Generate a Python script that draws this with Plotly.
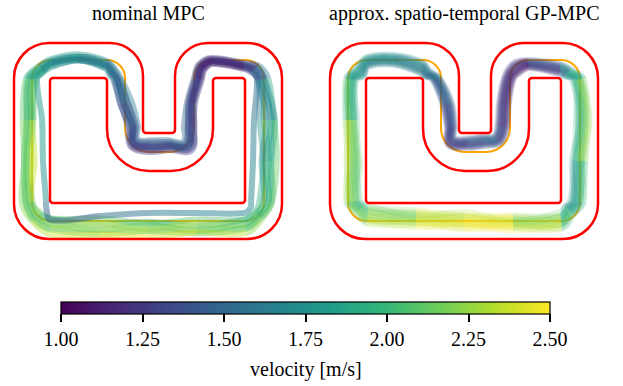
import numpy as np
import plotly.graph_objects as go
from plotly.colors import sample_colorscale

# ---------------- track geometry (track units, y pointing down) ----------------
outer_vx = [0, 129, 129, 161, 161, 268, 268, 0]
outer_vy = [0, 0, 90, 90, 0, 0, 196, 196]
outer_r = [35, 33, 3, 3, 33, 35, 35, 35]

inner_vx = [36, 93, 93, 199, 199, 231, 231, 36]
inner_vy = [35, 35, 128, 128, 35, 35, 160, 160]
inner_r = [3, 3, 42, 42, 3, 3, 3, 3]

ref_vx = [18, 111, 111, 180, 180, 250, 250, 18]
ref_vy = [17, 17, 109, 109, 17, 17, 178, 178]
ref_r = [19, 18, 24, 24, 18, 19, 19, 19]

# stations along the reference line
station_x = [18, 18, 18, 18, 23.6, 37, 65, 93, 105.7, 111, 111, 111, 118, 135, 156, 173, 180, 180,
             180, 185.3, 198, 231, 244.4, 250, 250, 250, 250, 244.4, 231, 183, 134, 86, 37, 23.6]
station_y = [159, 118, 77, 36, 22.6, 17, 17, 17, 22.3, 35, 60, 85, 102, 109, 109, 102, 85, 60,
             35, 22.3, 17, 17, 22.6, 36, 77, 118, 159, 172.4, 178, 178, 178, 178, 178, 172.4]

# ---------------- nominal MPC laps (lateral offset from reference, velocity) ----------------
# main bundle
nom_off_base = [4, 4, 3, 1, -5, -3, 2, -5, -10, -8, 0, 8, 3, 6, 7, -1, 4, 3,
                -4, -3, -1, -6, -5, -2, 5, 4, 3, 0, 4, 7, 7, 7, 4, 2]
nom_off_spread = [5, 5, 5, 5, 4, 4, 3, 4, 4, 4, 6, 5, 5, 6, 5, 6, 5, 4,
                  4, 4, 3, 3, 5, 5, 7, 7, 6, 5, 7, 6, 7, 8, 8, 6]
nom_off_twist = [2, -2, 2, 0, 0, 0, 1, 0, 0, 0, 2, 0, 0, 0, 0, 0, 2, 0,
                 0, 0, 0, 0, 0, 2, -3, 3, -2, 0, 2, -3, 3, -2, 2, 0]
nom_v_base = [2.15, 2.2, 2.15, 1.95, 1.8, 1.75, 1.7, 1.62, 1.55, 1.5, 1.45, 1.38, 1.3, 1.28, 1.35, 1.32, 1.35, 1.3,
              1.22, 1.15, 1.12, 1.2, 1.35, 1.55, 1.8, 1.9, 1.95, 2.0, 2.1, 2.15, 2.2, 2.2, 2.15, 2.1]
nom_v_spread = [-0.1, -0.1, -0.1, 0.0, 0.0, 0.0, 0.0, 0.0, 0.0, 0.0, 0.05, 0.08, 0.12, 0.15, 0.12, 0.08, 0.05, 0.05,
                0.05, 0.05, 0.05, 0.05, 0.05, 0.08, 0.12, 0.12, 0.1, 0.1, 0.1, 0.15, 0.15, 0.15, 0.1, 0.1]
nom_lap_k = [-1, -0.65, -0.3, 0, 0.3, 0.65, 1]
nom_lap_k2 = [0.8, -0.6, 1, -1, 0.3, -0.4, 0.6]
nom_lap_dv = [0.08, -0.05, 0.18, -0.08, 0.04, -0.1, 0.1]
# separate inner lap
nom_inner_off = [-14, -11, -10, -5, -8, -3, 0, -6, -11, -8, -1, 8, 2, 5, 6, -1, 3, 2,
                 -4, -3, -1, -6, -8, -7, -10, -11, -13, -11, -8, -8, -8, -5, -1, -12]
nom_inner_v = [1.7, 1.8, 1.85, 1.8, 1.75, 1.7, 1.65, 1.6, 1.55, 1.5, 1.45, 1.4, 1.3, 1.3, 1.35, 1.35, 1.35, 1.3,
               1.25, 1.2, 1.15, 1.25, 1.4, 1.5, 1.6, 1.65, 1.7, 1.7, 1.68, 1.65, 1.6, 1.5, 1.38, 1.5]

# ---------------- approx. spatio-temporal GP-MPC laps ----------------
gp_off_base = [-5, -5, -3, -3, -9, -2, 0, -8, -12, -5, 6, 10, 5, 9, 11, 8, 8, 6,
               1, -3, -4, -9, -10, -2, 3, -1, -3, -7, 0, 2, 0, -2, -6, -9]
gp_off_spread = [6, 6, 5, 5, 6, 5, 5, 6, 4, 4, 5, 4, 5, 5, 5, 5, 5, 5,
                 5, 6, 4, 5, 5, 5, 6, 6, 6, 6, 7, 6, 7, 7, 8, 6]
gp_off_twist = [2, -2, 2, -1, 0, 0, 0, 0, 0, 0, 0, 0, 0, 0, 0, 0, 0, 0,
                0, 0, 0, 0, 0, 2, -2, 2, -2, 0, 3, -3, 3, -3, 2, 0]
gp_v_base = [2.05, 2.25, 2.1, 1.85, 1.75, 1.7, 1.68, 1.62, 1.55, 1.5, 1.4, 1.32, 1.28, 1.3, 1.45, 1.4, 1.25, 1.2,
             1.18, 1.15, 1.15, 1.45, 1.7, 1.95, 2.15, 1.95, 1.8, 1.85, 2.1, 2.4, 2.45, 2.3, 2.15, 2.05]
gp_v_spread = [0.1, 0.1, 0.1, 0.08, 0.05, 0.05, 0.05, 0.05, 0.05, 0.05, 0.05, 0.05, 0.05, 0.05, 0.08, 0.05, 0.05, 0.05,
               0.05, 0.05, 0.05, 0.08, 0.1, 0.15, 0.2, 0.2, 0.12, 0.1, 0.1, 0.08, 0.05, 0.08, 0.1, 0.1]
gp_lap_k = [-1, -0.85, -0.7, -0.55, -0.4, -0.25, -0.1, 0.05, 0.2, 0.35, 0.5, 0.65, 0.8, 1]
gp_lap_k2 = [0.5, -1, 0.2, 0.9, -0.4, -0.8, 1, -0.2, 0.6, -0.6, 0.1, 0.8, -0.9, 0.3]
gp_lap_dv = [0.06, -0.04, 0.0, 0.07, -0.06, 0.03, -0.02, 0.05, -0.07, 0.01, 0.04, -0.03, 0.07, -0.02]

titles = ["nominal MPC", "approx. spatio-temporal GP-MPC"]
cbar_title = "velocity [m/s]"
cbar_ticks = [1.00, 1.25, 1.50, 1.75, 2.00, 2.25, 2.50]
VMIN, VMAX = 1.0, 2.5
FONT = "Liberation Serif"

W, H = 623, 386


def fmt(p):
    return f"{p[0]:.2f},{p[1]:.2f}"


def rounded_path(vx, vy, vr):
    n = len(vx)
    segs = []
    for i in range(n):
        V = np.array([vx[i], vy[i]], float)
        P = np.array([vx[i - 1], vy[i - 1]], float)
        N = np.array([vx[(i + 1) % n], vy[(i + 1) % n]], float)
        a = V + vr[i] * (P - V) / np.linalg.norm(P - V)
        b = V + vr[i] * (N - V) / np.linalg.norm(N - V)
        c1 = a + 0.5523 * (V - a)
        c2 = b + 0.5523 * (V - b)
        segs.append((a, c1, c2, b))
    d = "M" + fmt(segs[0][0])
    for i, (a, c1, c2, b) in enumerate(segs):
        if i > 0:
            d += " L" + fmt(a)
        d += " C" + fmt(c1) + " " + fmt(c2) + " " + fmt(b)
    return d + " Z"


def color_of(v, alpha):
    t = (min(max(v, VMIN), VMAX) - VMIN) / (VMAX - VMIN)
    c = sample_colorscale("Viridis", [t])[0]
    rgb = c[c.index("(") + 1:c.index(")")]
    return f"rgba({rgb},{alpha})"


sx = np.array(station_x, float)
sy = np.array(station_y, float)
tx = np.roll(sx, -1) - np.roll(sx, 1)
ty = np.roll(sy, -1) - np.roll(sy, 1)
nrm = np.hypot(tx, ty)
nx, ny = ty / nrm, -tx / nrm

fig = go.Figure()
lap_shapes = []


def add_lap(off, v, width, alpha, xr, yr):
    off = np.asarray(off, float)
    v = np.asarray(v, float)
    n = len(sx)
    step = 0.02
    P = np.stack([sx + off * nx, sy + off * ny], axis=1)
    tang = np.roll(P, -1, axis=0) - np.roll(P, 1, axis=0)
    tang = tang / np.linalg.norm(tang, axis=1)[:, None]
    bins = []
    for i in range(n):
        vm = 0.5 * (v[i] + v[(i + 1) % n])
        bins.append(int(round((min(max(vm, VMIN), VMAX) - VMIN) / step)))
    i = 0
    while i < n:
        j = i
        while j + 1 < n and bins[j + 1] == bins[i]:
            j += 1
        d = "M" + fmt(P[i])
        for m in range(i, j + 1):
            a, b = P[m % n], P[(m + 1) % n]
            L = np.linalg.norm(b - a) / 3.0
            c1 = a + tang[m % n] * L
            c2 = b - tang[(m + 1) % n] * L
            d += " C" + fmt(c1) + " " + fmt(c2) + " " + fmt(b)
        lap_shapes.append(dict(type="path", path=d, xref=xr, yref=yr, layer="above",
                               line=dict(color=color_of(VMIN + bins[i] * step, alpha), width=width)))
        i = j + 1


def add_bundle(base, spread, twist, vbase, vspread, ks, k2s, dvs, width, alpha, xr, yr):
    base, spread, twist = (np.array(a, float) for a in (base, spread, twist))
    vbase, vspread = np.array(vbase, float), np.array(vspread, float)
    for k, k2, dv in zip(ks, k2s, dvs):
        add_lap(base + spread * k + twist * k2, vbase + vspread * k + dv, width, alpha, xr, yr)


add_bundle(nom_off_base, nom_off_spread, nom_off_twist, nom_v_base, nom_v_spread,
           nom_lap_k, nom_lap_k2, nom_lap_dv, 6, 0.42, "x", "y")
add_lap(nom_inner_off, nom_inner_v, 6, 0.5, "x", "y")
add_bundle(gp_off_base, gp_off_spread, gp_off_twist, gp_v_base, gp_v_spread,
           gp_lap_k, gp_lap_k2, gp_lap_dv, 6, 0.2, "x2", "y2")

# carriers (invisible) so both axes and the colour bar exist
fig.add_trace(go.Scatter(x=[station_x[0]], y=[station_y[0]], mode="markers",
                         marker=dict(size=1, opacity=0, color=[nom_v_base[0]], coloraxis="coloraxis"),
                         xaxis="x", yaxis="y", hoverinfo="skip", showlegend=False))
fig.add_trace(go.Scatter(x=[station_x[0]], y=[station_y[0]], mode="markers",
                         marker=dict(size=1, opacity=0), xaxis="x2", yaxis="y2",
                         hoverinfo="skip", showlegend=False))

shapes = []
for xr, yr in (("x", "y"), ("x2", "y2")):
    shapes.append(dict(type="path", path=rounded_path(ref_vx, ref_vy, ref_r), xref=xr, yref=yr,
                       line=dict(color="#FFA500", width=2), layer="above"))
shapes += lap_shapes
for xr, yr in (("x", "y"), ("x2", "y2")):
    shapes.append(dict(type="path", path=rounded_path(outer_vx, outer_vy, outer_r), xref=xr, yref=yr,
                       line=dict(color="#FF0000", width=2.5), layer="above"))
    shapes.append(dict(type="path", path=rounded_path(inner_vx, inner_vy, inner_r), xref=xr, yref=yr,
                       line=dict(color="#FF0000", width=2.5), layer="above"))

ax = dict(visible=False, showgrid=False, zeroline=False, fixedrange=True)
ydom = [1 - 260 / H, 1 - 20 / H]
txt = dict(family=FONT, size=20, color="black")
fig.update_layout(
    width=W, height=H, margin=dict(l=0, r=0, t=0, b=0, autoexpand=False),
    paper_bgcolor="white", plot_bgcolor="white",
    xaxis=dict(ax, domain=[0, 300 / W], range=[-14, 286]),
    yaxis=dict(ax, domain=ydom, range=[217, -23]),
    xaxis2=dict(ax, domain=[316 / W, 616 / W], range=[-14, 286]),
    yaxis2=dict(ax, domain=ydom, range=[217, -23]),
    shapes=shapes,
    coloraxis=dict(
        colorscale="Viridis", cmin=VMIN, cmax=VMAX,
        colorbar=dict(
            orientation="h", x=305.5 / W, xanchor="center", y=1 - 302 / H, yanchor="top",
            len=489, lenmode="pixels", thickness=12, thicknessmode="pixels",
            xpad=0, ypad=0, outlinewidth=1.2, outlinecolor="black",
            tickvals=cbar_ticks, ticktext=[f"{t:.2f}" for t in cbar_ticks],
            ticks="outside", ticklen=8, tickwidth=1.5, tickcolor="black",
            tickfont=txt,
        ),
    ),
    annotations=[
        dict(text=titles[0], x=148 / W, y=1 - 13 / H, xref="paper", yref="paper",
             xanchor="center", yanchor="middle", showarrow=False, font=txt),
        dict(text=titles[1], x=464 / W, y=1 - 13 / H, xref="paper", yref="paper",
             xanchor="center", yanchor="middle", showarrow=False, font=txt),
        dict(text=cbar_title, x=305.5 / W, y=1 - 369 / H, xref="paper", yref="paper",
             xanchor="center", yanchor="middle", showarrow=False, font=txt),
    ],
)

fig.write_html("out.html", config={"displayModeBar": False},
               post_script="document.body.style.margin='0px';document.body.style.overflow='hidden';")
